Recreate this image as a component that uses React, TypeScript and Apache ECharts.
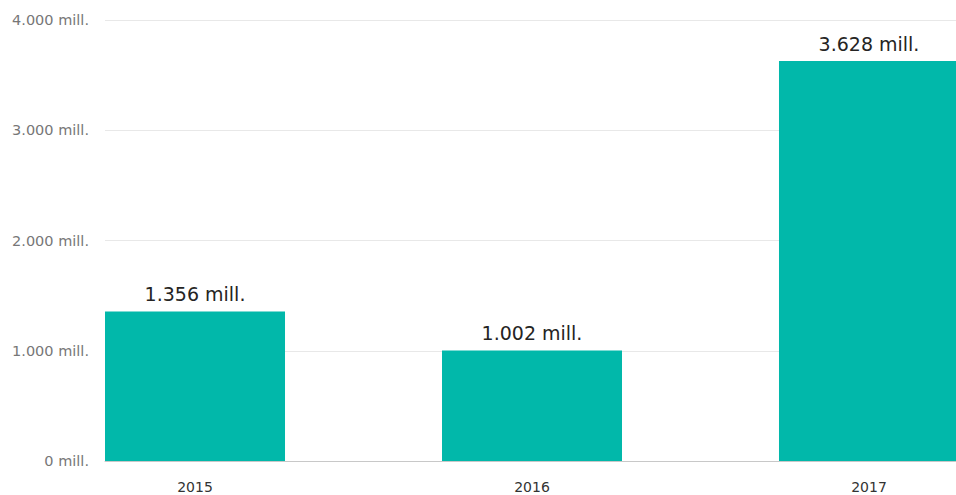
import React, { useEffect, useRef } from "react";
import * as echarts from "echarts";

const years = ["2015", "2016", "2017"];
const values = [1356, 1002, 3628];
const yTicks = [0, 1000, 2000, 3000, 4000];

const fmt = (v: number) => {
  const s = Math.round(v).toString();
  return s.replace(/\B(?=(\d{3})+(?!\d))/g, ".") + " mill.";
};

export default function App() {
  const ref = useRef<HTMLDivElement>(null);
  useEffect(() => {
    if (!ref.current) return;
    const chart = echarts.init(ref.current, undefined, { renderer: "svg" });
    chart.setOption({
      animation: false,
      grid: { left: 105, right: 0, top: 20, bottom: 34 },
      xAxis: {
        type: "value",
        min: -0.2671,
        max: 2.2582,
        splitLine: { show: false },
        axisTick: { show: false },
        axisLine: { show: true, lineStyle: { color: "#c8c8c8", width: 1 } },
        axisLabel: {
          margin: 19,
          color: "#333333",
          fontSize: 14,
          fontFamily: "DejaVu Sans",
          customValues: [0, 1, 2],
          formatter: (v: number) => years[Math.round(v)] ?? "",
        },
      },
      yAxis: {
        type: "value",
        min: yTicks[0],
        max: yTicks[yTicks.length - 1],
        interval: 1000,
        axisLine: { show: false },
        axisTick: { show: false },
        splitLine: { lineStyle: { color: "#e8e8e8", width: 1 } },
        axisLabel: {
          margin: 16,
          color: "#777777",
          fontSize: 14.5,
          fontFamily: "DejaVu Sans",
          formatter: (v: number) => fmt(v),
        },
      },
      series: [
        {
          type: "bar",
          barWidth: 180,
          clip: true,
          itemStyle: { color: "#01B8AA" },
          label: {
            show: true,
            position: "top",
            distance: 8,
            color: "#252423",
            fontSize: 19,
            fontFamily: "DejaVu Sans",
            formatter: (p: any) => fmt(p.value[1]),
          },
          data: values.map((v, i) => [i, v]),
        },
      ],
    });
    return () => chart.dispose();
  }, []);
  return (
    <div
      ref={ref}
      style={{ position: "fixed", left: 0, top: 0, width: 956, height: 495, background: "#fff" }}
    />
  );
}
